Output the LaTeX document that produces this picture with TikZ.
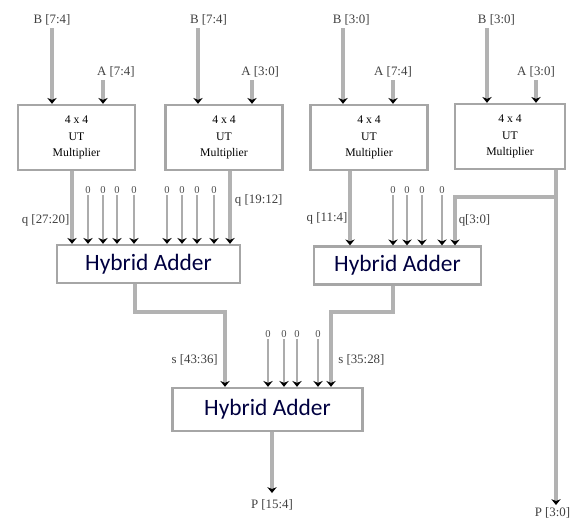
\documentclass[tikz,border=0pt]{standalone}
\usepackage{fontspec}
\setmainfont{Liberation Serif}
\newfontfamily\adderfont{Carlito}
\usetikzlibrary{arrows.meta, positioning, calc}

\begin{document}
\begin{tikzpicture}[
    x=0.03cm, y=-0.03cm,
    >={Stealth[length=5pt,width=8pt,color=black]},
    font=\fontsize{11}{13}\selectfont,
    multbox/.style={draw=gray!70, line width=2pt, fill=white, minimum width=3.5cm, minimum height=1.95cm, align=center, font=\fontsize{10}{14}\selectfont},
    addbox/.style={draw=gray!70, line width=2pt, fill=white, minimum height=1.14cm, font=\adderfont\fontsize{20}{24}\selectfont, text=blue!25!black},
    sig/.style={draw=gray!60, line width=2.6pt, ->},
    zero/.style={draw=gray!65, line width=2.2pt, ->},
    lbl/.style={inner sep=1pt, text=black!75},
    zlbl/.style={inner sep=1pt, text=black!70, font=\fontsize{9}{10}\selectfont}
  ]
  \useasboundingbox (0,0) rectangle (572,521);

  % multipliers
  \node (m1) [multbox] at (76.5,137.5) {4 x 4\\UT\\Multiplier};
  \node (m2) [multbox] at (224,137.5) {4 x 4\\UT\\Multiplier};
  \node (m3) [multbox] at (369,137.5) {4 x 4\\UT\\Multiplier};
  \node (m4) [multbox, minimum width=3.3cm] at (510,136.5) {4 x 4\\UT\\Multiplier};

  % adders
  \node (a1) [addbox, minimum width=5.49cm] at (148.5,264) {Hybrid Adder};
  \node (a2) [addbox, minimum width=5.0cm] at (397.5,265.5) {Hybrid Adder};
  \node (a3) [addbox, minimum width=5.7cm, minimum height=1.29cm] at (267.5,409.5) {Hybrid Adder};

  % inputs
  \coordinate (b1) at (52,28);
  \coordinate (b2) at (198,28);
  \coordinate (b3) at (343,28);
  \coordinate (b4) at (487,28);
  \coordinate (t1) at (103,80);
  \coordinate (t2) at (252,80);
  \coordinate (t3) at (393,80);
  \coordinate (t4) at (536,80);
  \node[lbl, above=1pt of b1] {B [7:4]};
  \node[lbl, above=1pt of b2, xshift=9] {B [7:4]};
  \node[lbl, above=1pt of b3, xshift=7] {B [3:0]};
  \node[lbl, above=1pt of b4, xshift=8] {B [3:0]};
  \node[lbl, above=1pt of t1, xshift=11] {A [7:4]};
  \node[lbl, above=1pt of t2, xshift=7] {A [3:0]};
  \node[lbl, above=1pt of t3] {A [7:4]};
  \node[lbl, above=1pt of t4] {A [3:0]};
  \foreach \i in {1,2,3,4} {
    \draw[sig] (b\i) -- (b\i |- m\i.north);
    \draw[sig] (t\i) -- (t\i |- m\i.north);
  }

  % multiplier outputs
  \coordinate (q1) at (72,220);
  \coordinate (q2) at (230,200);
  \coordinate (q3) at (350,218);
  \coordinate (q4) at (556,197);
  \coordinate (j4) at (455,197);
  \coordinate (p4) at (556,505);
  \draw[sig] (m1.south -| q1) -- (q1 |- a1.north);
  \draw[sig] (m2.south -| q2) -- (q2 |- a1.north);
  \draw[sig] (m3.south -| q3) -- (q3 |- a2.north);
  \draw[sig] (m4.south -| q4) -- (p4);
  \draw[sig] (q4) -- (j4) -- (j4 |- a2.north);
  \node[lbl, left=1pt of q1] {q [27:20]};
  \node[lbl, right=3pt of q2] {q [19:12]};
  \node[lbl, left=1pt of q3] {q [11:4]};
  \node[lbl, right=2pt of j4, yshift=-20] {q[3:0]};
  \node[lbl, below=1pt of p4, xshift=-3] {P [3:0]};

  % zero inputs
  \foreach \x in {88,103,117,134,167,182,197,214} {
    \node[zlbl] (z\x) at (\x,190) {0};
    \draw[zero] (z\x) -- (z\x |- a1.north);
  }
  \foreach \x in {393,407,422,442} {
    \node[zlbl] (z\x) at (\x,190) {0};
    \draw[zero] (z\x) -- (z\x |- a2.north);
  }
  \foreach \x in {268,284,297,318} {
    \node[zlbl] (z\x) at (\x,334) {0};
    \draw[zero] (z\x) -- (z\x |- a3.north);
  }

  % adder outputs
  \coordinate (o1) at (135,312);
  \coordinate (i1) at (225,312);
  \coordinate (o2) at (393,312);
  \coordinate (i2) at (331,312);
  \coordinate (p3) at (272,493);
  \draw[sig] (a1.south -| o1) -- (o1) -- (i1) -- (i1 |- a3.north);
  \draw[sig] (a2.south -| o2) -- (o2) -- (i2) -- (i2 |- a3.north);
  \draw[sig] (a3.south -| p3) -- (p3);
  \node[lbl, left=5pt of i1, yshift=-41] {s [43:36]};
  \node[lbl, right=5pt of i2, yshift=-41] {s [35:28]};
  \node[lbl, below=4pt of p3] {P [15:4]};

\end{tikzpicture}
\end{document}
